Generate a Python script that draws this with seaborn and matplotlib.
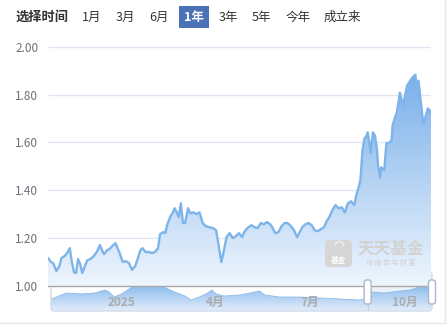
import matplotlib
matplotlib.use("Agg")
import matplotlib.pyplot as plt
import matplotlib.dates as mdates
from matplotlib.patches import FancyBboxPatch
from matplotlib.lines import Line2D
from matplotlib.transforms import IdentityTransform
import numpy as np
import pandas as pd
import seaborn as sns

# ---- data ----
nav_dates = [
    "2024-10-22", "2024-10-25", "2024-10-27", "2024-10-30", "2024-11-02", "2024-11-04", "2024-11-07",
    "2024-11-10", "2024-11-12", "2024-11-14", "2024-11-16", "2024-11-18", "2024-11-20", "2024-11-22",
    "2024-11-24", "2024-11-27", "2024-11-29", "2024-12-02", "2024-12-05", "2024-12-08", "2024-12-11",
    "2024-12-13", "2024-12-15", "2024-12-18", "2024-12-20", "2024-12-23", "2024-12-26", "2024-12-28",
    "2024-12-30", "2025-01-02", "2025-01-05", "2025-01-08", "2025-01-11", "2025-01-14", "2025-01-16",
    "2025-01-19", "2025-01-21", "2025-01-24", "2025-01-27", "2025-01-30", "2025-02-02", "2025-02-05",
    "2025-02-07", "2025-02-10", "2025-02-12", "2025-02-14", "2025-02-17", "2025-02-19", "2025-02-21",
    "2025-02-23", "2025-02-25", "2025-02-27", "2025-03-01", "2025-03-03", "2025-03-06", "2025-03-08",
    "2025-03-11", "2025-03-14", "2025-03-17", "2025-03-20", "2025-03-23", "2025-03-26", "2025-03-30",
    "2025-04-02", "2025-04-04", "2025-04-07", "2025-04-09", "2025-04-12", "2025-04-15", "2025-04-18",
    "2025-04-21", "2025-04-24", "2025-04-27", "2025-04-29", "2025-05-02", "2025-05-06", "2025-05-09",
    "2025-05-12", "2025-05-15", "2025-05-18", "2025-05-21", "2025-05-24", "2025-05-26", "2025-05-29",
    "2025-06-01", "2025-06-04", "2025-06-07", "2025-06-10", "2025-06-13", "2025-06-16", "2025-06-19",
    "2025-06-21", "2025-06-24", "2025-06-27", "2025-06-30", "2025-07-03", "2025-07-06", "2025-07-09",
    "2025-07-12", "2025-07-15", "2025-07-17", "2025-07-20", "2025-07-23", "2025-07-26", "2025-07-29",
    "2025-08-01", "2025-08-04", "2025-08-07", "2025-08-10", "2025-08-13", "2025-08-15", "2025-08-17",
    "2025-08-19", "2025-08-21", "2025-08-23", "2025-08-25", "2025-08-26", "2025-08-28", "2025-08-29",
    "2025-08-31", "2025-09-02", "2025-09-04", "2025-09-05", "2025-09-07", "2025-09-08", "2025-09-11",
    "2025-09-13", "2025-09-16", "2025-09-18", "2025-09-19", "2025-09-21", "2025-09-23", "2025-09-25",
    "2025-09-26", "2025-09-29", "2025-10-01", "2025-10-03", "2025-10-06", "2025-10-08", "2025-10-11",
    "2025-10-12", "2025-10-14", "2025-10-16", "2025-10-18", "2025-10-19", "2025-10-21", "2025-10-23",
    "2025-10-25", "2025-10-26",
]
nav_values = [
    1.117, 1.100, 1.096, 1.063, 1.083, 1.117, 1.125,
    1.142, 1.158, 1.100, 1.058, 1.054, 1.113, 1.092,
    1.054, 1.088, 1.108, 1.113, 1.125, 1.142, 1.171,
    1.150, 1.133, 1.150, 1.154, 1.167, 1.179, 1.158,
    1.138, 1.100, 1.104, 1.096, 1.067, 1.083, 1.108,
    1.150, 1.158, 1.142, 1.142, 1.138, 1.142, 1.158,
    1.217, 1.225, 1.221, 1.258, 1.292, 1.304, 1.325,
    1.308, 1.288, 1.346, 1.263, 1.263, 1.325, 1.304,
    1.308, 1.300, 1.308, 1.263, 1.250, 1.246, 1.242,
    1.233, 1.179, 1.100, 1.138, 1.204, 1.221, 1.200,
    1.208, 1.221, 1.204, 1.225, 1.242, 1.254, 1.246,
    1.242, 1.263, 1.258, 1.267, 1.258, 1.246, 1.221,
    1.225, 1.250, 1.263, 1.263, 1.250, 1.233, 1.204,
    1.221, 1.246, 1.258, 1.263, 1.254, 1.233, 1.229,
    1.238, 1.246, 1.267, 1.288, 1.317, 1.338, 1.325,
    1.329, 1.308, 1.346, 1.354, 1.338, 1.379, 1.408,
    1.442, 1.567, 1.617, 1.629, 1.642, 1.588, 1.558,
    1.642, 1.629, 1.567, 1.504, 1.454, 1.496, 1.483,
    1.596, 1.600, 1.608, 1.671, 1.700, 1.725, 1.775,
    1.808, 1.754, 1.796, 1.838, 1.858, 1.871, 1.883,
    1.829, 1.858, 1.775, 1.700, 1.679, 1.713, 1.742,
    1.733, 1.721,
]

# overview shadow in the zoom slider (relative level)
mini_dates = [
    "2024-10-22", "2024-10-28", "2024-11-04", "2024-11-09", "2024-11-22", "2024-12-06", "2024-12-16",
    "2024-12-20", "2024-12-25", "2025-01-01", "2025-01-11", "2025-01-18", "2025-01-28", "2025-02-05",
    "2025-02-11", "2025-02-21", "2025-03-03", "2025-03-09", "2025-03-17", "2025-03-25", "2025-03-29",
    "2025-04-02", "2025-04-10", "2025-04-25", "2025-05-14", "2025-05-19", "2025-06-02", "2025-06-21",
    "2025-07-11", "2025-07-30", "2025-08-18", "2025-08-24", "2025-08-30", "2025-09-11", "2025-09-26",
    "2025-10-06", "2025-10-15", "2025-10-21", "2025-10-26",
]
mini_level = [
    12, 13, 16, 18, 17, 18, 21,
    19, 14, 17, 24, 25, 26, 25,
    24, 19, 15, 11, 14, 18, 21,
    17, 15, 16, 20, 16, 14, 14,
    13, 12, 11, 12, 19, 18, 20,
    21, 24, 26, 28,
]

tick_dates = ["2025-01-01", "2025-04-01", "2025-07-01", "2025-10-01"]
tick_labels = ["2025", "4月", "7月", "10月"]
y_ticks = [1.00, 1.20, 1.40, 1.60, 1.80, 2.00]

period_buttons = ["1月", "3月", "6月", "1年", "3年", "5年", "今年", "成立来"]
active_period = "1年"
view_start, view_end = "2024-10-22", "2025-10-26"
slider_start, slider_end = "2024-10-25", "2025-10-27"
window_start = "2025-08-26"

# ---- style ----
LINE = "#7db4ea"
W, H = 448, 330

sns.set_theme(style="white")
plt.rcParams["font.family"] = ["Noto Sans CJK SC", "DejaVu Sans"]

df = pd.DataFrame({"date": pd.to_datetime(nav_dates), "nav": nav_values})
mini = pd.DataFrame({"date": pd.to_datetime(mini_dates), "level": mini_level})

fig = plt.figure(figsize=(W / 100, H / 100), dpi=100)
fig.patch.set_facecolor("white")


def gradient_fill(axis, x, y, base, top, top_rgb, bot_rgb, zorder=1):
    poly = axis.fill_between(x, y, base, color="none", lw=0)
    grad = np.linspace(0, 1, 256)[:, None, None]
    img = np.array(bot_rgb) / 255 * (1 - grad) + np.array(top_rgb) / 255 * grad
    xn = mdates.date2num(x)
    im = axis.imshow(img, extent=[xn.min(), xn.max(), base, top], origin="lower",
                     aspect="auto", zorder=zorder, interpolation="bilinear")
    im.set_clip_path(poly.get_paths()[0], transform=axis.transData)


# ---- zoom slider (drawn underneath the main axes) ----
sax = fig.add_axes([51 / W, 1 - 311 / H, 381 / W, 39 / H])
sax.set_facecolor("none")
sax.set_zorder(1)
gradient_fill(sax, mini["date"], mini["level"], 0, max(mini_level), (132, 183, 236), (226, 237, 250))
sns.lineplot(data=mini, x="date", y="level", ax=sax, color="#8dbbe9", lw=0.6, zorder=3)
sax.set_xlim(pd.Timestamp(slider_start), pd.Timestamp(slider_end))
sax.set_ylim(0, 39)
sax.axvspan(pd.Timestamp(window_start), pd.Timestamp(slider_end), color="#bcd3f0", alpha=0.3, lw=0, zorder=0)
sax.axvline(pd.Timestamp(window_start), color="#c3cfe0", lw=1, zorder=4)
sax.axis("off")
sax.add_patch(FancyBboxPatch((0, 0), 1, 1, boxstyle="round,pad=0,rounding_size=0.008",
                             mutation_aspect=381 / 39, transform=sax.transAxes, fill=False,
                             ec="#d3dcea", lw=1, clip_on=False, zorder=5))

# ---- main chart ----
ax = fig.add_axes([48 / W, 1 - 286 / H, 383 / W, 240 / H])
ax.set_facecolor("none")
ax.set_zorder(2)
gradient_fill(ax, df["date"], df["nav"], 1.0, df["nav"].max(), (122, 176, 234), (238, 245, 253))
sns.lineplot(data=df, x="date", y="nav", ax=ax, color=LINE, lw=1.7, zorder=3)
ax.set_xlim(pd.Timestamp(view_start), pd.Timestamp(view_end))
ax.set_ylim(1.0, 2.003)
ax.set_yticks(y_ticks)
ax.yaxis.set_major_formatter("{x:.2f}")
ax.set_xticks(pd.to_datetime(tick_dates))
ax.set_xticklabels(tick_labels, fontweight="bold")
ax.set_xlabel("")
ax.set_ylabel("")
ax.grid(axis="y", color="#e0e6f1", lw=1)
ax.set_axisbelow(True)
for s in ["left", "top", "right"]:
    ax.spines[s].set_visible(False)
ax.spines["bottom"].set_color("#a8a8a8")
ax.spines["bottom"].set_linewidth(1)
ax.tick_params(axis="y", length=0, pad=7, labelsize=8.5, labelcolor="#6e7079")
ax.tick_params(axis="x", length=4, width=1, color="#a8a8a8", pad=3,
               labelsize=8.5, labelcolor="#ababab")

# slider handles on top
for d in [window_start, slider_end]:
    xd = sax.transData.transform((mdates.date2num(pd.Timestamp(d)), 0))[0]
    fig.add_artist(FancyBboxPatch((xd - 3.5, H - 304), 7, 24, boxstyle="round,pad=0,rounding_size=2.5",
                                  transform=IdentityTransform(), fc="white", ec="#a9b7cc", lw=1, zorder=6))

# watermark (above the area fill)
fig.add_artist(FancyBboxPatch((325, H - 267), 27, 27, boxstyle="round,pad=0,rounding_size=5",
                              transform=IdentityTransform(), fc="#d6d6d6", ec="none", zorder=3))
fig.text(338.5 / W, 1 - 260 / H, "基金", color="white", fontsize=5.5, ha="center", va="center",
         fontweight="bold", zorder=4)
fig.text(338.5 / W, 1 - 247 / H, "◠", color="white", fontsize=9, ha="center", va="center", zorder=4)
fig.text(391 / W, 1 - 249 / H, "天天基金", color="#d2d2d2", fontsize=12, ha="center", va="center",
         fontweight="bold", zorder=3)
fig.text(391 / W, 1 - 263 / H, "链 接 您 与 财 富", color="#d2d2d2", fontsize=5, ha="center",
         va="center", zorder=3)

# ---- period selector ----
fig.text(16 / W, 1 - 17 / H, "选择时间", color="#333333", fontsize=9.5, fontweight="bold", va="center")
btn_x = [92, 125.5, 159.5, 194, 228, 261, 298, 342]
for label, bx in zip(period_buttons, btn_x):
    if label == active_period:
        fig.add_artist(FancyBboxPatch((bx - 15, H - 28), 30, 22, boxstyle="square,pad=0",
                                      transform=IdentityTransform(), fc="#4b72b5", ec="none"))
        fig.text(bx / W, 1 - 17 / H, label, color="white", fontsize=9, fontweight="bold",
                 ha="center", va="center")
    else:
        fig.text(bx / W, 1 - 17 / H, label, color="#333333", fontsize=9, ha="center", va="center")

# frame lines
fig.add_artist(Line2D([0, 445 / W], [1 - 323 / H] * 2, transform=fig.transFigure, color="#e6e6e6", lw=1))
fig.add_artist(Line2D([445 / W] * 2, [1 - 323 / H, 1], transform=fig.transFigure, color="#e6e6e6", lw=1))

fig.savefig("out.png", dpi=100)
